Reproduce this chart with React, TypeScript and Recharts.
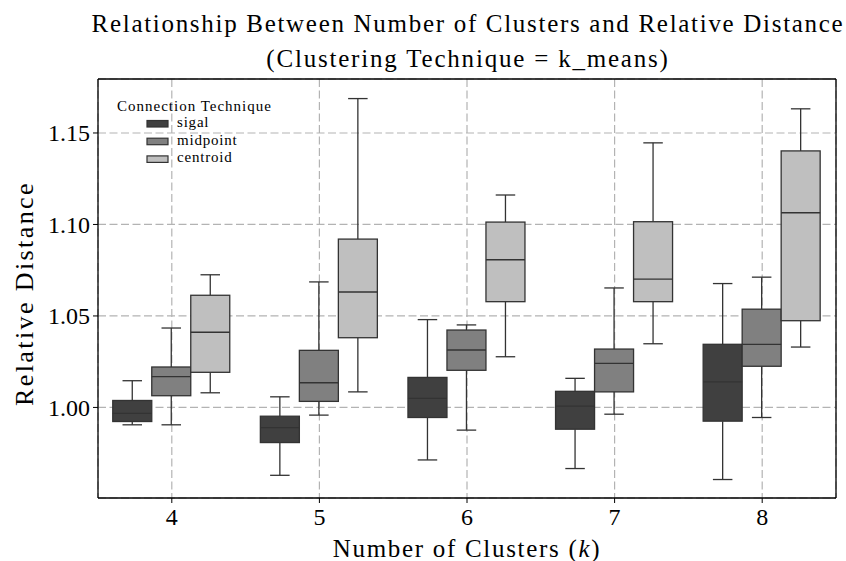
import { ComposedChart, Bar, XAxis, YAxis, CartesianGrid, Label } from "recharts";

const CLUSTERS = ["4", "5", "6", "7", "8"];

// each entry: [min, q1, median, q3, max]
const SIGAL = [
  [0.9905, 0.9923, 0.9967, 1.0038, 1.0146],
  [0.9629, 0.9808, 0.989, 0.9952, 1.0058],
  [0.9713, 0.9945, 1.0049, 1.0164, 1.048],
  [0.9666, 0.9881, 1.0007, 1.0088, 1.0159],
  [0.9606, 0.9925, 1.014, 1.0345, 1.0677],
];
const MIDPOINT = [
  [0.9905, 1.0064, 1.0168, 1.0221, 1.0434],
  [0.9958, 1.0033, 1.0135, 1.0312, 1.0686],
  [0.9876, 1.0203, 1.0314, 1.0423, 1.0451],
  [0.9963, 1.0085, 1.0241, 1.0319, 1.0653],
  [0.9945, 1.0225, 1.0345, 1.0537, 1.0712],
];
const CENTROID = [
  [1.008, 1.0192, 1.0411, 1.0613, 1.0725],
  [1.0085, 1.0381, 1.0631, 1.092, 1.1688],
  [1.0277, 1.0578, 1.0807, 1.1013, 1.1161],
  [1.0348, 1.0578, 1.0701, 1.1015, 1.1446],
  [1.033, 1.0474, 1.1064, 1.1402, 1.1632],
];

const SERIES = [
  { key: "sigal", fill: "#404040", stats: SIGAL },
  { key: "midpoint", fill: "#808080", stats: MIDPOINT },
  { key: "centroid", fill: "#bfbfbf", stats: CENTROID },
];

const Y_TICKS = [1.0, 1.05, 1.1, 1.15];
const Y_DOMAIN = [0.9505, 1.1795];

const FONT = "'Liberation Serif', 'Times New Roman', serif";
const EDGE = "#333333";

const data = CLUSTERS.map((k, i) => {
  const row: any = { k };
  SERIES.forEach((s) => {
    const [mn, q1, md, q3, mx] = s.stats[i];
    row[s.key] = [q1, q3];
    row[s.key + "Stats"] = { mn, q1, md, q3, mx };
  });
  return row;
});

function BoxShape(props: any) {
  const { x, y, width, height, payload, fill, seriesKey } = props;
  const st = payload[seriesKey + "Stats"];
  const top = Math.min(y, y + height);
  const h = Math.abs(height);
  const k = h / (st.q3 - st.q1);
  const py = (v: number) => top + (st.q3 - v) * k;
  const cx = x + width / 2;
  const cap = width / 4;
  return (
    <g>
      <line x1={cx} x2={cx} y1={py(st.q3)} y2={py(st.mx)} stroke={EDGE} strokeWidth={1.3} />
      <line x1={cx} x2={cx} y1={py(st.q1)} y2={py(st.mn)} stroke={EDGE} strokeWidth={1.3} />
      <line x1={cx - cap} x2={cx + cap} y1={py(st.mx)} y2={py(st.mx)} stroke={EDGE} strokeWidth={1.3} />
      <line x1={cx - cap} x2={cx + cap} y1={py(st.mn)} y2={py(st.mn)} stroke={EDGE} strokeWidth={1.3} />
      <rect x={x} y={top} width={width} height={h} fill={fill} stroke={EDGE} strokeWidth={1.3} />
      <line x1={x} x2={x + width} y1={py(st.md)} y2={py(st.md)} stroke={EDGE} strokeWidth={1.3} />
    </g>
  );
}

function XTitle({ viewBox }: any) {
  const cx = viewBox.x + viewBox.width / 2;
  return (
    <text x={cx} y={557} textAnchor="middle" fontSize={25} fontFamily={FONT} fill="#000" letterSpacing={1.7}>
      Number of Clusters (<tspan fontStyle="italic">k</tspan>)
    </text>
  );
}

function YTitle({ viewBox }: any) {
  const cy = viewBox.y + viewBox.height / 2 + 5;
  return (
    <text
      x={33}
      y={cy}
      transform={`rotate(-90 33 ${cy})`}
      textAnchor="middle"
      fontSize={26}
      fontFamily={FONT}
      fill="#000"
      letterSpacing={2.4}
    >
      Relative Distance
    </text>
  );
}

export default function App() {
  return (
    <div style={{ position: "absolute", left: 0, top: 0, width: 846, height: 561, background: "white" }}>
      <ComposedChart
        width={846}
        height={561}
        data={data}
        margin={{ top: 78, right: 9, left: 0, bottom: 0 }}
        barCategoryGap="10%"
        barGap={0}
      >
        <CartesianGrid strokeDasharray="8 3.5" stroke="#b3b3b3" strokeWidth={1.2} />
        <XAxis
          dataKey="k"
          height={63}
          tickSize={5}
          tickMargin={5}
          axisLine={{ stroke: "#000", strokeWidth: 1.3 }}
          tickLine={{ stroke: "#000", strokeWidth: 1 }}
          tick={{ fontSize: 24, fill: "#000", fontFamily: FONT }}
        >
          <Label content={<XTitle />} />
        </XAxis>
        <XAxis
          xAxisId="top"
          dataKey="k"
          orientation="top"
          height={1}
          tick={false}
          tickLine={false}
          axisLine={{ stroke: "#000", strokeWidth: 1.3 }}
        />
        <YAxis
          type="number"
          domain={Y_DOMAIN}
          ticks={Y_TICKS}
          allowDataOverflow
          width={98}
          tickSize={5}
          tickMargin={3}
          tickFormatter={(v: number) => v.toFixed(2)}
          axisLine={{ stroke: "#000", strokeWidth: 1.3 }}
          tickLine={{ stroke: "#000", strokeWidth: 1 }}
          tick={{ fontSize: 24, fill: "#000", fontFamily: FONT }}
        >
          <Label content={<YTitle />} />
        </YAxis>
        <YAxis
          yAxisId="right"
          orientation="right"
          type="number"
          domain={Y_DOMAIN}
          allowDataOverflow
          width={1}
          tick={false}
          tickLine={false}
          axisLine={{ stroke: "#000", strokeWidth: 1.3 }}
        />
        {SERIES.map((s) => (
          <Bar
            key={s.key}
            dataKey={s.key}
            fill={s.fill}
            isAnimationActive={false}
            shape={(p: any) => <BoxShape {...p} fill={s.fill} seriesKey={s.key} />}
          />
        ))}
      </ComposedChart>
      <svg width={846} height={561} style={{ position: "absolute", left: 0, top: 0, pointerEvents: "none" }}>
        <g fontFamily={FONT} fill="#000">
          <text x={468} y={32} fontSize={25} textAnchor="middle" letterSpacing={1.7}>
            Relationship Between Number of Clusters and Relative Distance
          </text>
          <text x={468} y={66.5} fontSize={25} textAnchor="middle" letterSpacing={1.8}>
            (Clustering Technique = k_means)
          </text>
          <text x={117} y={110.5} fontSize={15} letterSpacing={1}>Connection Technique</text>
          {SERIES.map((s, i) => (
            <g key={s.key}>
              <rect x={147} y={120.5 + i * 17.7} width={21} height={6.5} fill={s.fill} stroke={EDGE} strokeWidth={1.2} />
              <text x={177} y={127 + i * 17.7} fontSize={15} letterSpacing={0.8}>{s.key}</text>
            </g>
          ))}
        </g>
      </svg>
    </div>
  );
}
